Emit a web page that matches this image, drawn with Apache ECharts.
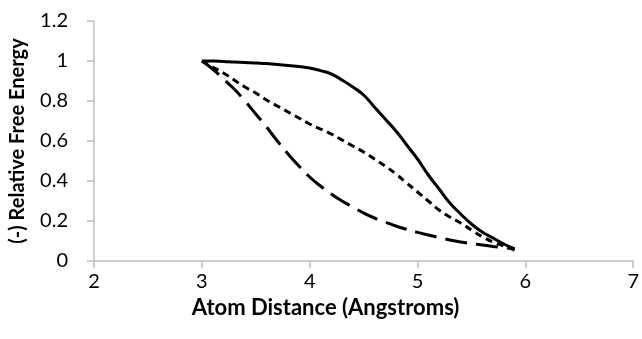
<!DOCTYPE html>
<html>
<head>
<meta charset="utf-8">
<script src="https://cdn.jsdelivr.net/npm/echarts@6/dist/echarts.min.js"></script>
<style>
  html, body { margin: 0; padding: 0; background: #fff; }
  #chart { width: 642px; height: 339px; }
</style>
</head>
<body>
<div id="chart"></div>
<script>
// atom distance (Angstroms)
const distances = [3.0, 3.1, 3.2, 3.3, 3.4, 3.5, 3.6, 3.7, 3.8, 3.9,
  4.0, 4.1, 4.2, 4.3, 4.4, 4.5, 4.6, 4.7, 4.8, 4.9,
  5.0, 5.1, 5.2, 5.3, 5.4, 5.5, 5.6, 5.7, 5.8, 5.9]

// relative free energy
const solidCurve = [1.0, 1.0, 0.998, 0.995, 0.993, 0.99, 0.987, 0.983, 0.978, 0.972,
  0.965, 0.952, 0.935, 0.905, 0.87, 0.83, 0.77, 0.71, 0.65, 0.58,
  0.51, 0.43, 0.36, 0.29, 0.235, 0.185, 0.145, 0.115, 0.085, 0.06]
const shortDashCurve = [1.0, 0.97, 0.94, 0.905, 0.87, 0.84, 0.805, 0.775, 0.745, 0.715,
  0.685, 0.66, 0.635, 0.605, 0.575, 0.545, 0.51, 0.475, 0.435, 0.39,
  0.345, 0.3, 0.255, 0.22, 0.19, 0.155, 0.122, 0.095, 0.075, 0.055]
const longDashCurve = [1.0, 0.96, 0.91, 0.86, 0.8, 0.735, 0.67, 0.6, 0.535, 0.475,
  0.42, 0.375, 0.335, 0.3, 0.27, 0.24, 0.215, 0.195, 0.175, 0.158,
  0.143, 0.13, 0.117, 0.105, 0.095, 0.087, 0.08, 0.073, 0.067, 0.062]

const toPairs = ys => distances.map((x, i) => [x, ys[i]])

const chart = echarts.init(document.getElementById('chart'))
const font = 'Lato, "Open Sans", sans-serif'

const lineSeries = (name, ys, type) => ({
  name,
  type: 'line',
  smooth: true,
  symbol: 'none',
  lineStyle: { color: '#000', width: 3, type },
  data: toPairs(ys)
})

const option = {
  animation: false,
  grid: {
    left: 93,
    right: 6,
    top: 21,
    bottom: 78
  },
  xAxis: {
    type: 'value',
    min: 2,
    max: 7,
    interval: 1,
    name: 'Atom Distance (Angstroms)',
    nameLocation: 'middle',
    nameGap: 29,
    nameTextStyle: {
      fontFamily: font, fontWeight: 'bold', fontSize: 22, color: '#000',
      padding: [0, 76, 0, 0]
    },
    axisLine: { lineStyle: { color: '#bfbfbf', width: 1.5 } },
    axisTick: { show: true, length: 7, lineStyle: { color: '#bfbfbf', width: 1.5 } },
    axisLabel: { fontFamily: font, fontSize: 20, color: '#000', margin: 11 },
    splitLine: { show: false }
  },
  yAxis: {
    type: 'value',
    min: 0,
    max: 1.2,
    interval: 0.2,
    name: '(-) Relative Free Energy',
    nameLocation: 'middle',
    nameGap: 66,
    nameTextStyle: { fontFamily: font, fontWeight: 'bold', fontSize: 20, color: '#000' },
    axisLine: { show: true, lineStyle: { color: '#bfbfbf', width: 1.5 } },
    axisTick: { show: true, length: 7, lineStyle: { color: '#bfbfbf', width: 1.5 } },
    axisLabel: {
      fontFamily: font,
      fontSize: 20,
      color: '#000',
      margin: 26,
      formatter: v => String(Math.round(v * 10) / 10)
    },
    splitLine: { show: false }
  },
  series: [
    lineSeries('solid', solidCurve, 'solid'),
    lineSeries('short dash', shortDashCurve, [7, 5]),
    lineSeries('long dash', longDashCurve, [22, 9])
  ]
}

chart.setOption(option)
</script>
</body>
</html>
